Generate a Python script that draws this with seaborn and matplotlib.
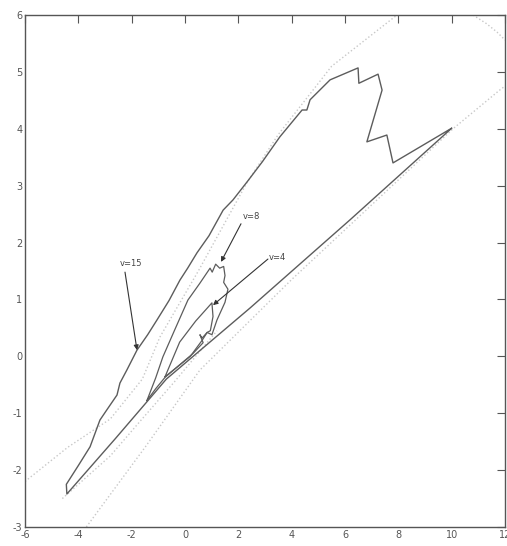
import numpy as np
import pandas as pd
import matplotlib
matplotlib.use("Agg")
import matplotlib.pyplot as plt
import seaborn as sns

# ---- data ----
v15_x = [10.0, 7.8, 7.57, 6.82, 7.39, 7.24, 6.52, 6.49, 5.44, 4.69, 4.57, 4.39, 3.56, 2.9,
         2.35, 1.8, 1.43, 0.9, 0.45, 0.1, -0.19, -0.6, -1.05, -1.4, -1.8, -2.18, -2.44, -2.55,
         -2.93, -3.19, -3.56, -4.0, -4.45, -4.43, -2.6, -1.43, -0.7, 2.44, 6.19, 10.0]
v15_y = [4.01, 3.4, 3.89, 3.77, 4.68, 4.96, 4.80, 5.07, 4.86, 4.51, 4.33, 4.33, 3.86, 3.42,
         3.08, 2.75, 2.57, 2.12, 1.82, 1.55, 1.34, 0.98, 0.64, 0.38, 0.11, -0.24, -0.47, -0.68,
         -0.94, -1.12, -1.59, -1.92, -2.25, -2.42, -1.44, -0.80, -0.40, 0.85, 2.40, 4.01]

v8_x = [-1.43, -1.1, -0.83, -0.4, 0.11, 0.55, 0.94, 1.02, 1.15, 1.3, 1.45, 1.5, 1.45, 1.61,
        1.5, 1.2, 1.01, 0.83, 0.64, 0.56, 0.68, 0.3, -0.2, -0.75, -1.1, -1.43]
v8_y = [-0.78, -0.38, -0.01, 0.45, 0.99, 1.28, 1.55, 1.48, 1.62, 1.55, 1.58, 1.42, 1.30, 1.18,
        0.95, 0.64, 0.38, 0.42, 0.32, 0.38, 0.24, 0.05, -0.15, -0.37, -0.57, -0.78]

v4_x = [-0.75, -0.2, 0.4, 1.01, 1.05, 0.95, 0.83, 0.64, 0.2, -0.75]
v4_y = [-0.36, 0.25, 0.62, 0.94, 0.70, 0.45, 0.42, 0.28, 0.0, -0.36]

dot_a_x = [-6.0, -4.4, -2.8, -1.6, -0.94, 0.5, 2.32, 3.5, 5.5, 7.95]
dot_a_y = [-2.2, -1.6, -1.1, -0.4, 0.34, 1.5, 3.05, 3.9, 5.1, 6.0]
dot_b_x = [-4.6, -2.8, -1.7, -0.4, 1.2]
dot_b_y = [-2.5, -1.75, -1.15, -0.45, 0.45]
dot_c_x = [-3.7, -1.5, 0.56, 4.0, 8.0, 10.05, 11.8, 12.0]
dot_c_y = [-3.0, -1.6, -0.24, 1.35, 3.1, 4.0, 4.68, 4.75]
arc_x = [10.8, 11.3, 11.7, 12.0]
arc_y = [6.0, 5.85, 5.7, 5.56]

labels = ["v=15", "v=8", "v=4"]
label_xy = [(-2.45, 1.64), (2.15, 2.45), (3.15, 1.73)]
arrow_tail = [(-2.25, 1.48), (2.1, 2.33), (3.11, 1.71)]
arrow_head = [(-1.8, 0.11), (1.35, 1.66), (1.05, 0.90)]

xticks = [-6, -4, -2, 0, 2, 4, 6, 8, 10, 12]
yticks = [-3, -2, -1, 0, 1, 2, 3, 4, 5, 6]

# ---- plot ----
sns.set_style("white")
plt.rcParams['font.family'] = ['Liberation Sans Narrow', 'DejaVu Sans']

fig = plt.figure(figsize=(5.07, 5.46), dpi=100)
ax = fig.add_axes([25/507, 19/546, 480/507, 512/546])

def draw(xs, ys, **kw):
    df = pd.DataFrame({"x": xs, "y": ys})
    sns.lineplot(data=df, x="x", y="y", sort=False, estimator=None, ax=ax, **kw)

lightgray = "#c8c8c8"
draw(dot_a_x, dot_a_y, color=lightgray, lw=1.0, linestyle=":")
draw(dot_b_x, dot_b_y, color=lightgray, lw=1.0, linestyle=":")
draw(dot_c_x, dot_c_y, color=lightgray, lw=1.0, linestyle=":")
draw(arc_x, arc_y, color=lightgray, lw=1.0, linestyle=":")

solid = "#5c5c5c"
draw(v15_x, v15_y, color=solid, lw=1.0)
draw(v8_x, v8_y, color=solid, lw=0.9)
draw(v4_x, v4_y, color=solid, lw=0.9)

for lab, (lx, ly), t, h in zip(labels, label_xy, arrow_tail, arrow_head):
    ax.text(lx, ly, lab, fontsize=6, color="#444444", ha="left", va="center")
    ax.annotate("", xy=h, xytext=t,
                arrowprops=dict(arrowstyle="-|>", color="#333333", lw=0.8,
                                mutation_scale=7, shrinkA=0, shrinkB=0))

ax.set_xlim(-6, 12)
ax.set_ylim(-3, 6)
ax.set_xticks(xticks)
ax.set_yticks(yticks)
ax.set_xticklabels([str(t) for t in xticks])
ax.set_yticklabels([str(t) for t in yticks])
ax.set_xlabel("")
ax.set_ylabel("")
ax.tick_params(direction="in", length=6, width=0.8, color="#555555",
               top=True, right=True, labelsize=7, labelcolor="#555555", pad=2)
for s in ax.spines.values():
    s.set_color("#555555")
    s.set_linewidth(1.0)
    s.set_visible(True)

fig.savefig("out.png", dpi=100, facecolor="white")
